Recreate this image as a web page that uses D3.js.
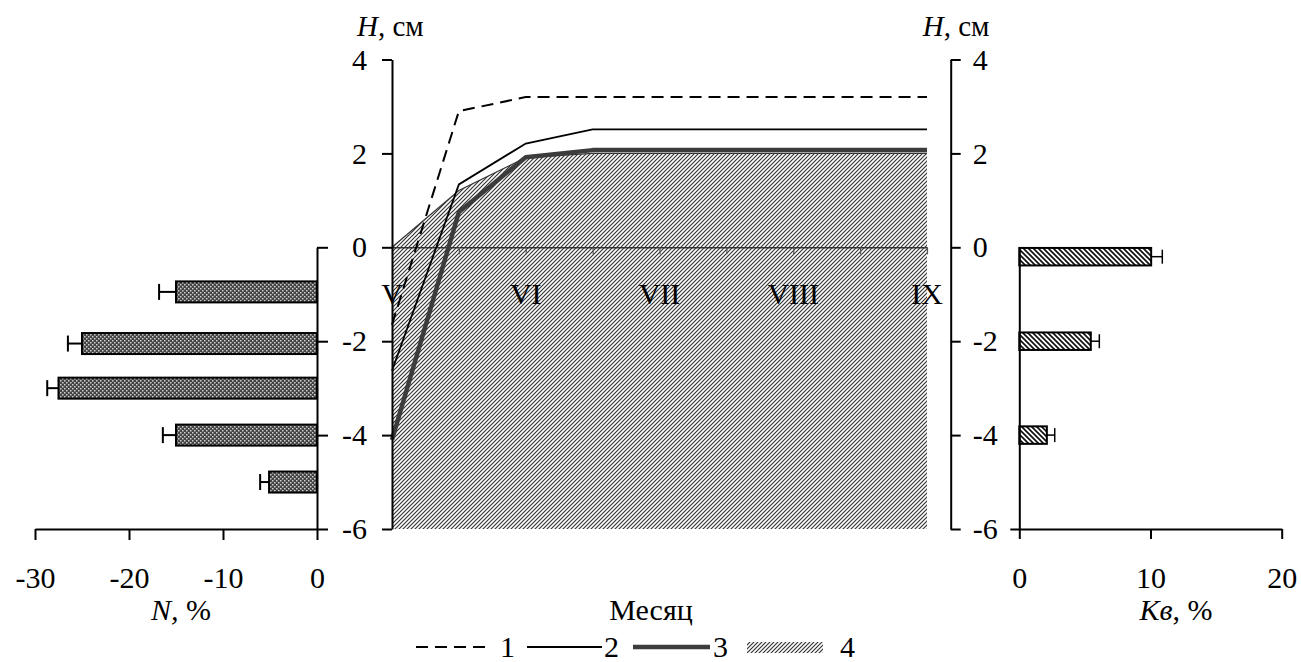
<!DOCTYPE html>
<html><head><meta charset="utf-8">
<script src="https://cdn.jsdelivr.net/npm/d3@7"></script>
<style>
body{margin:0;background:#fff}
svg text{font-family:"Liberation Serif","Times New Roman",serif;fill:#000}
</style>
</head><body>
<svg id="c" width="1301" height="662"></svg>
<script>
// ---- data ----
const monthLabels = ["V","VI","VII","VIII","IX"];
const steps = [0,1,2,3,4,5,6,7,8];            // half-month steps V..IX
const series1 = [-1.65, 2.9, 3.2, 3.2, 3.2, 3.2, 3.2, 3.2, 3.2];     // dashed
const series2 = [-2.63, 1.34, 2.21, 2.51, 2.51, 2.51, 2.51, 2.51, 2.51]; // thin
const series3 = [-4.1, 0.75, 1.92, 2.07, 2.07, 2.07, 2.07, 2.07, 2.07];  // thick
const series4 = [0, 1.21, 1.91, 2.0, 2.0, 2.0, 2.0, 2.0, 2.0];           // hatched area top
const areaBase = -6;
const hTicks = [4,2,0,-2,-4,-6];

const nDepth = [-0.95, -2.05, -3, -4, -5];
const nValues = [-15.0, -25.0, -27.5, -15.0, -5.1];
const nErr = [1.8, 1.5, 1.2, 1.4, 0.95];
const nTicks = [-30,-20,-10,0];

const kvDepth = [-0.2, -2, -4];
const kvValues = [10.05, 5.45, 2.1];
const kvErr = [0.85, 0.65, 0.6];
const kvTicks = [0,10,20];

const legendLabels = ["1","2","3","4"];

// ---- setup ----
const svg = d3.select("#c");
const FS = 30;
const defs = svg.append("defs");
// area hatch "/"
const p1 = defs.append("pattern").attr("id","hatchA").attr("patternUnits","userSpaceOnUse").attr("width",4).attr("height",4);
p1.append("rect").attr("width",4).attr("height",4).attr("fill","#fff");
p1.append("path").attr("d","M-1,1 L1,-1 M0,4 L4,0 M3,5 L5,3").attr("stroke","#333").attr("stroke-width",1.15);
// right bar hatch "\"
const p2 = defs.append("pattern").attr("id","hatchB").attr("patternUnits","userSpaceOnUse").attr("width",5).attr("height",5);
p2.append("rect").attr("width",5).attr("height",5).attr("fill","#fff");
p2.append("path").attr("d","M0,0 L5,5 M-1,4 L1,6 M4,-1 L6,1").attr("stroke","#111").attr("stroke-width",1.7);
// left bar dotted
const p3 = defs.append("pattern").attr("id","dots").attr("patternUnits","userSpaceOnUse").attr("width",4).attr("height",4);
p3.append("rect").attr("width",4).attr("height",4).attr("fill","#444");
p3.append("rect").attr("x",0).attr("y",0).attr("width",1.5).attr("height",1.5).attr("fill","#cfcfcf");
p3.append("rect").attr("x",2).attr("y",2).attr("width",1.5).attr("height",1.5).attr("fill","#cfcfcf");

// scales
const yH = d3.scaleLinear().domain([-6,4]).range([529,59.5]);
const xM = d3.scaleLinear().domain([0,8]).range([392,927]);
const xN = d3.scaleLinear().domain([-30,0]).range([35,317]);
const xK = d3.scaleLinear().domain([0,20]).range([1019.3,1281.7]);
const yLow = d3.scaleLinear().domain([-6,0]).range([yH(-6),yH(0)]);
const rightAxisX = 950.7;

function styleAxis(g){
  g.attr("font-size",FS).attr("font-family",null);
  g.selectAll(".domain").attr("stroke","#000").attr("stroke-width",2);
  g.selectAll(".tick line").attr("stroke","#000").attr("stroke-width",2);
  g.selectAll(".tick text").style("font-family",'"Liberation Serif","Times New Roman",serif');
}
const fmtMinus = d=>d<0?"-"+Math.abs(d):String(d);

// ---- central chart ----
const pts = (s)=>steps.map((k,i)=>[k,s[i]]);
const area = d3.area().x(d=>xM(d[0])).y0(yH(areaBase)).y1(d=>yH(d[1]));
svg.append("path").datum(pts(series4)).attr("d",area).attr("fill","url(#hatchA)");
svg.append("path").datum(pts(series4))
  .attr("d",d3.line().x(d=>xM(d[0])).y(d=>yH(d[1])))
  .attr("fill","none").attr("stroke","#333").attr("stroke-width",1.2);

// zero line with month step ticks
const gM = svg.append("g").attr("transform",`translate(0,${yH(0)})`)
  .call(d3.axisBottom(xM).tickValues(steps).tickSize(7).tickSizeOuter(0).tickFormat(""));
gM.selectAll(".domain").attr("stroke","#333").attr("stroke-width",1.6);
gM.selectAll(".tick line").attr("stroke","#555").attr("stroke-width",1.2);

// month labels
svg.append("g").selectAll("text").data(monthLabels).join("text")
  .attr("x",(d,i)=>xM(i*2)).attr("y",yH(0)+57)
  .attr("text-anchor","middle").attr("font-size",FS).text(d=>d);

const line = d3.line().x(d=>xM(d[0])).y(d=>yH(d[1]));
svg.append("path").datum(pts(series3)).attr("d",line).attr("fill","none")
  .attr("stroke","#3c3c3c").attr("stroke-width",4.5).attr("stroke-linejoin","round");
svg.append("path").datum(pts(series2)).attr("d",line).attr("fill","none")
  .attr("stroke","#000").attr("stroke-width",1.8);
svg.append("path").datum(pts(series1)).attr("d",line).attr("fill","none")
  .attr("stroke","#000").attr("stroke-width",2).attr("stroke-dasharray","12,7");

// central axes
const gL = svg.append("g").attr("transform",`translate(${xM(0)},0)`)
  .call(d3.axisLeft(yH).tickValues(hTicks).tickSize(10).tickSizeOuter(0).tickPadding(15).tickFormat(fmtMinus));
styleAxis(gL);
const gR = svg.append("g").attr("transform",`translate(${rightAxisX},0)`)
  .call(d3.axisRight(yH).tickValues(hTicks).tickSize(10).tickSizeOuter(0).tickPadding(12).tickFormat(fmtMinus));
styleAxis(gR);

function hTitle(x){
  const t = svg.append("text").attr("x",x).attr("y",36).attr("font-size",29);
  t.append("tspan").attr("font-style","italic").text("H");
  t.append("tspan").text(", см");
}
hTitle(xM(0)-35);
hTitle(rightAxisX-28);

// ---- left bar chart ----
const gNb = svg.append("g");
const barHN = 21;
gNb.selectAll("rect").data(nValues).join("rect")
  .attr("x",d=>xN(d)).attr("width",d=>xN(0)-xN(d))
  .attr("y",(d,i)=>yH(nDepth[i])-barHN/2).attr("height",barHN)
  .attr("fill","url(#dots)").attr("stroke","#000").attr("stroke-width",2);
gNb.selectAll("line.e").data(nValues).join("line").attr("class","e")
  .attr("x1",d=>xN(d)).attr("x2",(d,i)=>xN(d-nErr[i]))
  .attr("y1",(d,i)=>yH(nDepth[i])).attr("y2",(d,i)=>yH(nDepth[i]))
  .attr("stroke","#000").attr("stroke-width",2);
gNb.selectAll("line.c").data(nValues).join("line").attr("class","c")
  .attr("x1",(d,i)=>xN(d-nErr[i])).attr("x2",(d,i)=>xN(d-nErr[i]))
  .attr("y1",(d,i)=>yH(nDepth[i])-8).attr("y2",(d,i)=>yH(nDepth[i])+8)
  .attr("stroke","#000").attr("stroke-width",2);

const gNy = svg.append("g").attr("transform",`translate(${xN(0)},0)`)
  .call(d3.axisRight(yLow).tickValues([0,-2,-4,-6]).tickSize(11).tickSizeOuter(0).tickFormat(""));
styleAxis(gNy);
const gNx = svg.append("g").attr("transform",`translate(0,${yH(-6)})`)
  .call(d3.axisBottom(xN).tickValues(nTicks).tickSize(11).tickSizeOuter(0).tickPadding(27).tickFormat(fmtMinus));
styleAxis(gNx);
{
  const t = svg.append("text").attr("x",(xN(-30)+xN(0))/2+5).attr("y",620).attr("text-anchor","middle").attr("font-size",FS);
  t.append("tspan").attr("font-style","italic").text("N,");
  t.append("tspan").text(" %");
}

// ---- right bar chart ----
const gKb = svg.append("g");
const barHK = 17.5;
gKb.selectAll("rect").data(kvValues).join("rect")
  .attr("x",xK(0)).attr("width",d=>xK(d)-xK(0))
  .attr("y",(d,i)=>yH(kvDepth[i])-barHK/2).attr("height",barHK)
  .attr("fill","url(#hatchB)").attr("stroke","#000").attr("stroke-width",2);
gKb.selectAll("line.e").data(kvValues).join("line").attr("class","e")
  .attr("x1",d=>xK(d)).attr("x2",(d,i)=>xK(d+kvErr[i]))
  .attr("y1",(d,i)=>yH(kvDepth[i])).attr("y2",(d,i)=>yH(kvDepth[i]))
  .attr("stroke","#000").attr("stroke-width",1.5);
gKb.selectAll("line.c").data(kvValues).join("line").attr("class","c")
  .attr("x1",(d,i)=>xK(d+kvErr[i])).attr("x2",(d,i)=>xK(d+kvErr[i]))
  .attr("y1",(d,i)=>yH(kvDepth[i])-7).attr("y2",(d,i)=>yH(kvDepth[i])+7)
  .attr("stroke","#000").attr("stroke-width",1.5);

const gKy = svg.append("g").attr("transform",`translate(${xK(0)},0)`)
  .call(d3.axisLeft(yLow).tickValues([-6]).tickSize(9).tickSizeOuter(0).tickFormat(""));
styleAxis(gKy);
const gKx = svg.append("g").attr("transform",`translate(0,${yH(-6)})`)
  .call(d3.axisBottom(xK).tickValues(kvTicks).tickSize(10).tickSizeOuter(0).tickPadding(28).tickFormat(d3.format("d")));
styleAxis(gKx);
{
  const t = svg.append("text").attr("x",1176).attr("y",620).attr("text-anchor","middle").attr("font-size",FS);
  t.append("tspan").attr("font-style","italic").text("Кв");
  t.append("tspan").text(", %");
}

// ---- x title & legend ----
svg.append("text").attr("x",651).attr("y",620).attr("text-anchor","middle").attr("font-size",FS).text("Месяц");

const lg = svg.append("g");
const ly = 647;
lg.append("line").attr("x1",416).attr("x2",490).attr("y1",ly).attr("y2",ly)
  .attr("stroke","#000").attr("stroke-width",2).attr("stroke-dasharray","12,7");
lg.append("line").attr("x1",527).attr("x2",602).attr("y1",ly).attr("y2",ly)
  .attr("stroke","#000").attr("stroke-width",1.8);
lg.append("line").attr("x1",633).attr("x2",710).attr("y1",ly).attr("y2",ly)
  .attr("stroke","#3c3c3c").attr("stroke-width",4.5);
lg.append("rect").attr("x",747).attr("y",642).attr("width",76).attr("height",11).attr("fill","url(#hatchA)");
const lx = [500, 604, 713, 840];
lg.selectAll("text").data(legendLabels).join("text")
  .attr("x",(d,i)=>lx[i]).attr("y",657).attr("font-size",FS).text(d=>d);
</script>
</body></html>
